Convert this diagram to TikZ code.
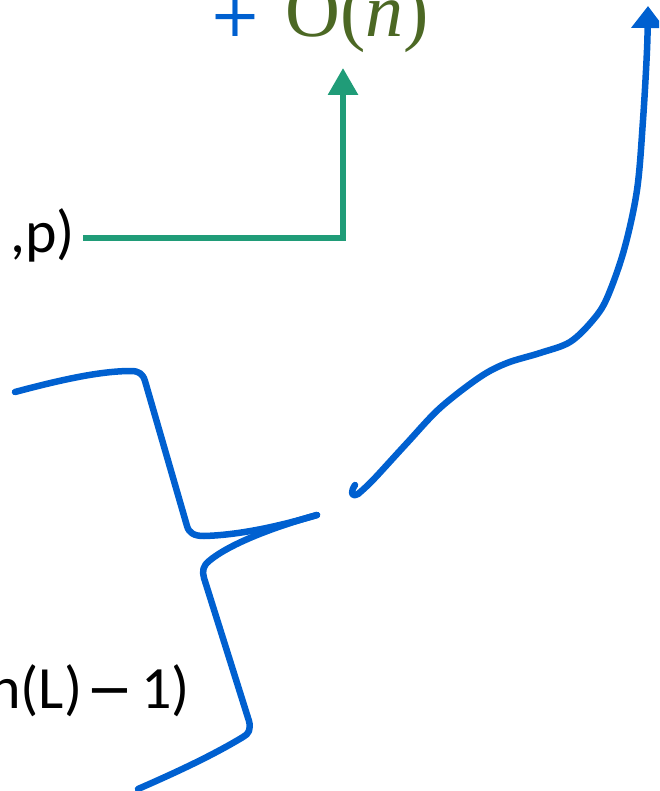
\documentclass[tikz,border=0pt]{standalone}
\usepackage{fontspec}
\setmainfont{Carlito}
\newfontfamily\mathlike{Liberation Serif}
\newfontfamily\plusfont{DejaVu Sans}
\usetikzlibrary{arrows.meta, positioning}
\definecolor{curveblue}{RGB}{0,96,208}
\definecolor{stepgreen}{RGB}{32,156,120}
\definecolor{olivetext}{RGB}{76,104,36}
\begin{document}
\begin{tikzpicture}[
				x=1pt, y=-1pt,
				bluestroke/.style={draw=curveblue, line width=6.5pt, line cap=round, line join=round},
				greenstroke/.style={draw=stepgreen, line width=6pt, line join=miter},
				sidelabel/.style={inner sep=0pt, font=\fontsize{60}{68}\selectfont},
				toplabel/.style={inner sep=0pt, text=olivetext, font=\mathlike\fontsize{76}{86}\selectfont},
				pluslabel/.style={inner sep=0pt, text=curveblue, font=\plusfont\fontsize{62}{70}\selectfont}
				]
				\useasboundingbox (0,0) rectangle (659,791);
				\clip (0,0) rectangle (659,791);
				
				% --- Labels cut by the frame ---
				\node[toplabel, anchor=base east] (cost) at (429,37) {O(\textit{n})};
				\node[pluslabel, anchor=base east] (plus) at (262,37) {+};
				\node[sidelabel, anchor=base east] (pair) at (75,253) {,p)};
				\node[sidelabel, anchor=base east] (depth) at (190,708)
					{n(L)\hspace{4pt}{\plusfont\fontsize{56}{64}\selectfont\char"2212}\hspace{8pt}1)};
				
				% --- Green step arrow ---
				\coordinate (gstart) at (83,238);
				\coordinate (gcorner) at (343,238);
				\coordinate (gtip) at (343,68);
				\draw[greenstroke, -{Triangle[length=27pt, width=29pt]}] (gstart) -- (gcorner) -- (gtip);
				
				% --- Two braces ---
				\coordinate (join) at (317,515);
				\draw[bluestroke] (15,392) .. controls (60,380) and (100,371) .. (131,371)
					.. controls (139,371) and (143,374) .. (145,381) -- (187,526)
					.. controls (189,533) and (194,536) .. (204,536)
					.. controls (240,535) and (280,526) .. (join);
				\draw[bluestroke] (join) .. controls (270,528) and (228,545) .. (209,561)
					.. controls (203,566) and (202,571) .. (204,578) -- (249,721)
					.. controls (251,729) and (249,734) .. (243,737)
					.. controls (210,757) and (170,775) .. (138,789);
				
				% --- Long blue arrow ---
				\coordinate (hook) at (355,485);
				\coordinate (btip) at (648,6);
				\draw[bluestroke] (hook) .. controls (351,491) and (350,498) .. (358,494);
				\draw[bluestroke, -{Triangle[length=22pt, width=32pt]}] plot[smooth, tension=0.55] coordinates
					{(358,494) (373,480) (407,443) (440,408) (480,377) (507,363) (540,353) (570,342)
					 (593,320) (607,298) (624,250) (637,190) (643,120) (647,50) (btip)};
			\end{tikzpicture}
\end{document}
